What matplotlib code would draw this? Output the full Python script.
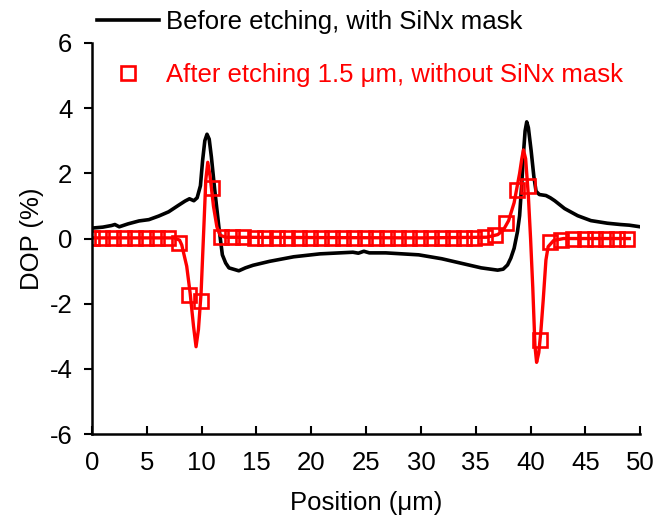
import matplotlib
matplotlib.use("Agg")
import matplotlib.pyplot as plt

plt.rcParams['font.family'] = ['Liberation Sans', 'DejaVu Sans']
plt.rcParams['axes.unicode_minus'] = False

# black curve: before etching, with SiNx mask
x_before = [0, 1, 1.8, 2.1, 2.5, 3.3, 4.3, 5.2, 6.1, 7.0, 7.9, 8.5, 8.9, 9.3, 9.6,
            9.9, 10.1, 10.3, 10.5, 10.7, 10.9, 11.2, 11.6, 11.9, 12.2, 12.5, 13.0,
            13.4, 14.0, 14.7, 16.2, 18.4, 20.8, 23.8, 24.3, 24.8, 25.3, 26.8, 29.8,
            31.9, 33.7, 35.5, 37.0, 37.5, 37.9, 38.2, 38.5, 38.8, 39.0, 39.2, 39.35,
            39.5, 39.65, 39.8, 40.05, 40.3, 40.5, 40.8, 41.4, 41.8, 42.2, 43.1, 44.3,
            45.5, 47.0, 48.2, 49.0, 50]
y_before = [0.32, 0.35, 0.40, 0.43, 0.36, 0.45, 0.54, 0.58, 0.69, 0.82, 1.02, 1.15,
            1.22, 1.16, 1.25, 1.62, 2.40, 3.00, 3.20, 3.05, 2.50, 1.50, 0.30, -0.50,
            -0.75, -0.90, -0.95, -0.99, -0.90, -0.82, -0.70, -0.56, -0.47, -0.42,
            -0.45, -0.39, -0.44, -0.44, -0.50, -0.62, -0.76, -0.90, -0.97, -0.94,
            -0.81, -0.60, -0.30, 0.20, 0.70, 1.70, 2.60, 3.30, 3.58, 3.40, 2.70,
            1.90, 1.45, 1.35, 1.32, 1.25, 1.16, 0.92, 0.70, 0.55, 0.47, 0.43, 0.41,
            0.36]

# red curve: after etching 1.5 um, without SiNx mask
x_after_line = [0, 4, 7.5, 8.0, 8.2, 8.65, 8.96, 9.27, 9.5, 9.72, 9.96, 10.24, 10.39,
                10.57, 10.78, 11.09, 11.4, 11.7, 12.2, 20, 30, 36.0, 37.0, 37.5, 38.0,
                38.5, 39.0, 39.2, 39.35, 39.55, 39.8, 40.0, 40.2, 40.4, 40.55, 40.75,
                40.95, 41.15, 41.4, 41.6, 42.1, 43.0, 49.0]
y_after_line = [0.02, 0.02, 0.02, -0.05, -0.2, -0.85, -1.67, -2.69, -3.32, -2.79,
                -1.67, 0.57, 1.8, 2.34, 1.91, 0.99, 0.36, 0.1, 0.04, 0.03, 0.02, 0.04,
                0.12, 0.25, 0.55, 1.1, 2.0, 2.45, 2.72, 2.45, 1.3, 0.0, -1.5, -3.3,
                -3.8, -3.5, -2.8, -1.9, -0.66, -0.25, -0.06, 0.0, 0.0]

x_after_pts = [0, 0.95, 1.95, 2.95, 3.95, 4.95, 5.9, 6.95, 7.95, 8.9, 9.95, 11.0,
               11.8, 12.75, 13.8, 14.85, 15.8, 16.85, 17.8, 18.85, 19.85, 20.85,
               21.9, 22.9, 23.9, 24.9, 25.9, 26.9, 27.9, 28.95, 29.95, 30.95, 31.95,
               32.9, 33.9, 34.85, 35.8, 36.75, 37.8, 38.75, 39.8, 40.85, 41.8, 42.8,
               43.9, 44.95, 45.9, 46.9, 47.9, 48.8]
y_after_pts = [0.02, 0.02, 0.02, 0.02, 0.02, 0.02, 0.02, 0.02, -0.15, -1.74, -1.92,
               1.55, 0.05, 0.04, 0.04, 0.03, 0.03, 0.03, 0.03, 0.03, 0.02, 0.02,
               0.02, 0.02, 0.03, 0.03, 0.03, 0.03, 0.02, 0.02, 0.02, 0.02, 0.02,
               0.02, 0.02, 0.03, 0.05, 0.1, 0.48, 1.5, 1.6, -3.11, -0.1, -0.03,
               0.0, 0.0, 0.0, 0.0, 0.0, 0.0]

fs = 18.5
fig = plt.figure(figsize=(6.56, 5.18), dpi=100)
ax = fig.add_axes([0.14, 0.162, 0.836, 0.755])

ax.plot(x_before, y_before, color='black', lw=2.6,
        label='Before etching, with SiNx mask')
ax.plot(x_after_line, y_after_line, color='red', lw=2.4)
ax.plot(x_after_pts, y_after_pts, ls='none', marker='s', ms=9.5, mfc='none',
        mec='red', mew=1.9, label='After etching 1.5 \u03bcm, without SiNx mask')

ax.set_xlim(0, 50)
ax.set_ylim(-6, 6)
ax.set_xticks(range(0, 51, 5))
ax.set_yticks(range(-6, 7, 2))
ax.spines['top'].set_visible(False)
ax.spines['right'].set_visible(False)
for s in ['left', 'bottom']:
    ax.spines[s].set_linewidth(1.8)
ax.tick_params(axis='x', direction='in', length=6, width=1.5, pad=12, labelsize=fs)
ax.tick_params(axis='y', direction='out', length=6, width=1.5, pad=8, labelsize=fs)
ax.set_xlabel('Position (\u03bcm)', fontsize=fs, labelpad=12)
ax.set_ylabel('DOP (%)', fontsize=fs, labelpad=4)

leg = ax.legend(loc='upper left', bbox_to_anchor=(0.148, 0.98), bbox_transform=fig.transFigure,
                frameon=False, fontsize=fs, handlelength=2.4, handletextpad=0.3,
                labelspacing=1.1, borderpad=0, borderaxespad=0)
for txt, c in zip(leg.get_texts(), ['black', 'red']):
    txt.set_color(c)

fig.savefig('out.png', dpi=100)
